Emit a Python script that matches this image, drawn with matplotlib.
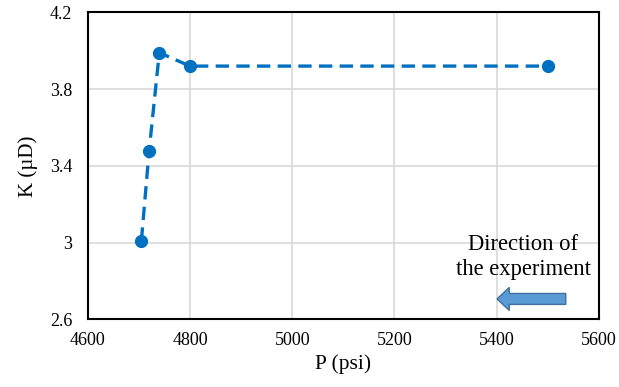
import matplotlib.pyplot as plt
from matplotlib.patches import FancyArrow

plt.rcParams['font.family'] = ['Liberation Serif', 'DejaVu Serif']

# data
pressure = [4705, 4720, 4740, 4800, 5500]
perm = [3.01, 3.475, 3.99, 3.92, 3.92]
xticks = [4600, 4800, 5000, 5200, 5400, 5600]
yticks = [2.6, 3.0, 3.4, 3.8, 4.2]
ytick_labels = ['2.6', '3', '3.4', '3.8', '4.2']

fig = plt.figure(figsize=(6.19, 3.87), dpi=100)
ax = fig.add_axes([0.1417, 0.175, 0.826, 0.793])

ax.plot(pressure, perm, color='#0070C0', linestyle=(0, (4, 2.2)), linewidth=2.4,
        marker='o', markersize=8.5, zorder=3)

ax.set_xlim(4600, 5600)
ax.set_ylim(2.6, 4.2)
ax.set_xticks(xticks)
ax.set_yticks(yticks)
ax.set_yticklabels(ytick_labels)
ax.tick_params(length=0, labelsize=13)
ax.tick_params(axis='y', pad=11)
ax.tick_params(axis='x', pad=9)
ax.grid(True, color='#D9D9D9', linewidth=1.2)
ax.set_axisbelow(True)
for s in ax.spines.values():
    s.set_color('black')
    s.set_linewidth(1.5)

ax.set_xlabel('P (psi)', fontsize=15.5, labelpad=4)
ax.set_ylabel('K (µD)', fontsize=15, labelpad=9)

# annotation: direction arrow
ax.text(5452, 2.925, 'Direction of\nthe experiment', ha='center', va='center',
        fontsize=16.3, linespacing=1.2)
ax.add_patch(FancyArrow(5535, 2.706, -134.5, 0, width=0.057, head_width=0.12,
                        head_length=24, length_includes_head=True,
                        facecolor='#5B9BD5', edgecolor='#41719C', linewidth=1, zorder=4))

fig.savefig('out.png', dpi=100)
